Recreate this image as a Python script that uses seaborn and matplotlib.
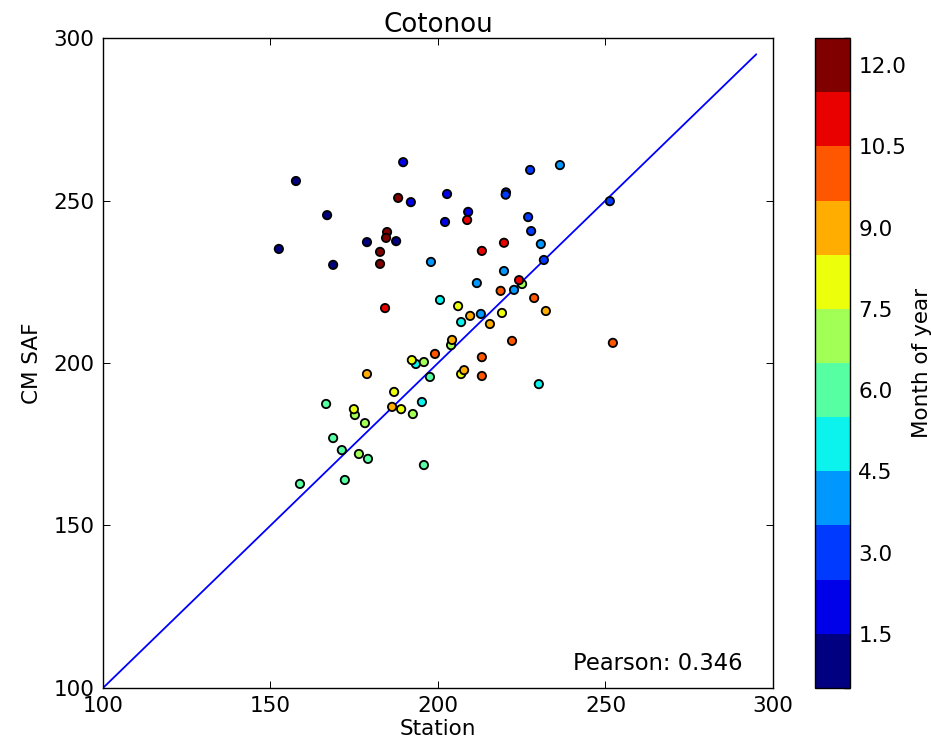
import numpy as np
import pandas as pd
import matplotlib
matplotlib.use("Agg")
import matplotlib.pyplot as plt
from matplotlib.colors import BoundaryNorm, ListedColormap
from matplotlib.cm import ScalarMappable
import seaborn as sns

# Monthly means: station measurement vs CM SAF satellite estimate
month_1_station = [152.5, 157.6, 166.9, 168.7, 178.8, 187.5]
month_1_cmsaf = [235.1, 256.0, 245.5, 230.2, 237.2, 237.5]
month_2_station = [189.6, 191.9, 202.7, 202.1, 209.0]
month_2_cmsaf = [261.8, 249.5, 252.0, 243.4, 246.5]
month_3_station = [220.3, 220.2, 227.5, 226.9, 227.8, 231.6, 251.3]
month_3_cmsaf = [252.5, 251.8, 259.4, 244.9, 240.6, 231.7, 249.8]
month_4_station = [236.4, 230.7, 197.9, 211.6, 219.7, 222.7, 212.8]
month_4_cmsaf = [260.9, 236.6, 231.1, 224.6, 228.3, 222.5, 215.1]
month_5_station = [200.6, 206.9, 193.4, 230.1, 195.2]
month_5_cmsaf = [219.4, 212.6, 199.7, 193.5, 188.0]
month_6_station = [197.6, 166.6, 168.7, 171.3, 179.1, 195.8, 158.8, 172.2]
month_6_cmsaf = [195.7, 187.4, 176.9, 173.2, 170.5, 168.6, 162.8, 164.0]
month_7_station = [225.1, 203.9, 195.8, 175.2, 192.5, 178.2, 176.4]
month_7_cmsaf = [224.3, 205.5, 200.3, 184.0, 184.3, 181.5, 172.0]
month_8_station = [206.0, 219.1, 206.9, 192.2, 186.9, 174.9, 189.0]
month_8_cmsaf = [217.5, 215.4, 196.6, 200.9, 191.1, 185.8, 185.8]
month_9_station = [209.6, 215.5, 232.2, 207.8, 204.2, 178.8, 186.3]
month_9_cmsaf = [214.5, 212.0, 216.0, 197.8, 207.1, 196.6, 186.5]
month_10_station = [218.7, 228.7, 222.1, 252.2, 213.1, 213.1, 199.1]
month_10_cmsaf = [222.2, 220.0, 206.8, 206.2, 201.8, 196.0, 202.8]
month_11_station = [184.2, 208.7, 213.1, 219.7, 224.2]
month_11_cmsaf = [216.9, 244.0, 234.5, 237.0, 225.5]
month_12_station = [188.1, 184.8, 184.5, 182.7, 182.7]
month_12_cmsaf = [250.8, 240.3, 238.5, 234.2, 230.5]

station_by_month = [month_1_station, month_2_station, month_3_station, month_4_station,
                    month_5_station, month_6_station, month_7_station, month_8_station,
                    month_9_station, month_10_station, month_11_station, month_12_station]
cmsaf_by_month = [month_1_cmsaf, month_2_cmsaf, month_3_cmsaf, month_4_cmsaf,
                  month_5_cmsaf, month_6_cmsaf, month_7_cmsaf, month_8_cmsaf,
                  month_9_cmsaf, month_10_cmsaf, month_11_cmsaf, month_12_cmsaf]

pearson_r = 0.346
axis_ticks = [100, 150, 200, 250, 300]
cbar_ticks = [1.5, 3.0, 4.5, 6.0, 7.5, 9.0, 10.5, 12.0]

rows = []
for m, (xs, ys) in enumerate(zip(station_by_month, cmsaf_by_month), start=1):
    for x, y in zip(xs, ys):
        rows.append({"Station": x, "CM SAF": y, "Month": m})
df = pd.DataFrame(rows)

sns.set_theme(style="ticks", rc={
    "xtick.direction": "in", "ytick.direction": "in",
    "xtick.top": True, "ytick.right": True,
    "xtick.major.size": 5, "ytick.major.size": 5,
    "xtick.major.width": 0.7, "ytick.major.width": 0.7,
    "axes.linewidth": 1.0, "axes.edgecolor": "black",
    "text.color": "black", "axes.labelcolor": "black",
    "xtick.color": "black", "ytick.color": "black",
})
plt.rcParams["font.family"] = ["DejaVu Sans"]

jet12 = plt.get_cmap("jet", 12)
colors = [jet12(i) for i in range(12)]
palette = {m: colors[m - 1] for m in range(1, 13)}

fig = plt.figure(figsize=(9.31, 7.47), dpi=100)
ax = fig.add_axes([0.1106, 0.0790, 0.7197, 0.8701])
cax = fig.add_axes([0.8754, 0.0790, 0.0376, 0.8701])

sns.scatterplot(data=df, x="Station", y="CM SAF", hue="Month", palette=palette,
                s=36, edgecolor="black", linewidth=1.3, legend=False, ax=ax, zorder=3)

ax.plot([100, 295], [100, 295], color="blue", linewidth=1.3, zorder=2)

ax.set_xlim(100, 300)
ax.set_ylim(100, 300)
ax.set_xticks(axis_ticks)
ax.set_yticks(axis_ticks)
ax.tick_params(labelsize=15.5, colors="black", pad=6)
ax.set_xlabel("Station", fontsize=15.5, labelpad=2)
ax.set_ylabel("CM SAF", fontsize=15.5, labelpad=8)
ax.set_title("Cotonou", fontsize=18.8, pad=4)
ax.text(0.955, 0.02, f"Pearson: {pearson_r}", transform=ax.transAxes,
        ha="right", va="bottom", fontsize=16.3)

norm = BoundaryNorm(np.arange(0.5, 13.5, 1.0), 12)
sm = ScalarMappable(norm=norm, cmap=ListedColormap(colors))
cb = fig.colorbar(sm, cax=cax, ticks=cbar_ticks)
cb.ax.set_yticklabels([f"{t:.1f}" for t in cbar_ticks])
cb.ax.tick_params(labelsize=15.5, direction="in", length=5, width=0.7, pad=6)
cb.outline.set_linewidth(1.0)
cb.set_label("Month of year", fontsize=15.5, labelpad=4)

fig.savefig("out.png", dpi=100)
